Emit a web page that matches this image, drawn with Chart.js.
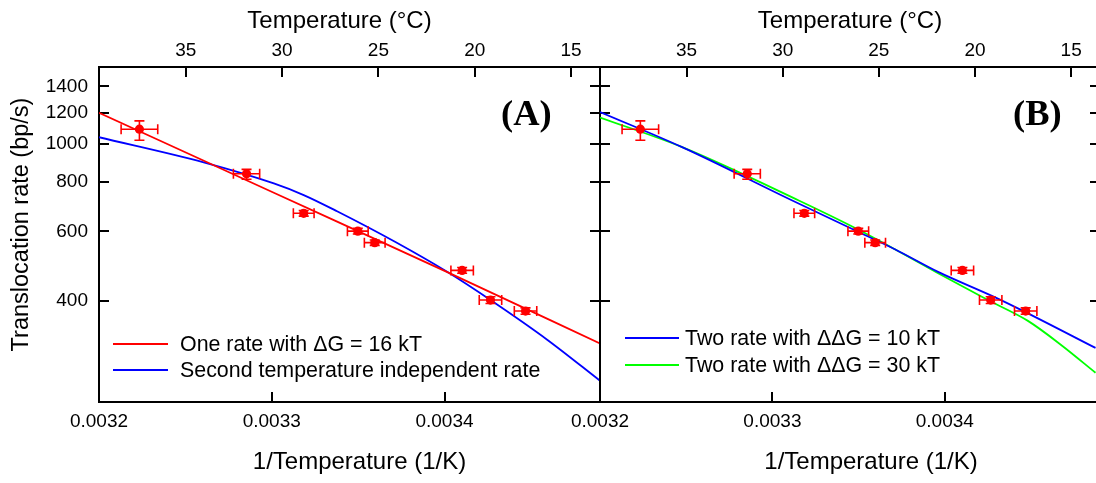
<!DOCTYPE html>
<html><head><meta charset="utf-8">
<script src="https://cdn.jsdelivr.net/npm/chart.js@4.4.1/dist/chart.umd.min.js"></script>
<style>
html,body{margin:0;padding:0;background:#fff;}
body{width:1096px;height:483px;overflow:hidden;position:relative;font-family:"Liberation Sans",Arial,sans-serif;}
canvas{position:absolute;top:0;}
#cA{left:0;}
#cB{left:560px;}
.panel-label{position:absolute;font-family:"Liberation Serif","Times New Roman",serif;font-weight:bold;font-size:36.5px;line-height:36px;color:#000;white-space:nowrap;}
.leg-text{position:absolute;height:26px;font-size:21.4px;line-height:26px;color:#000;white-space:nowrap;}
.leg-line{position:absolute;height:2px;}
</style></head>
<body>
<canvas id="cA" width="610" height="483"></canvas>
<canvas id="cB" width="560" height="483"></canvas>
<div class="panel-label" style="left:501px;top:95px">(A)</div>
<div class="panel-label" style="left:1013px;top:95px">(B)</div>
<script>
// ---------- data ----------
const invT     = [0.0032234, 0.0032854, 0.0033185, 0.0033498, 0.0033596, 0.0034102, 0.0034266, 0.0034469];
const rate     = [1090, 840, 667, 601, 562, 478, 402, 377];
const invTErr  = [0.0000106, 0.0000076, 0.0000060, 0.0000060, 0.0000060, 0.0000065, 0.0000065, 0.0000065];
const rateLow  = [1022, 814, 656, 591, 553, 470, 394, 370];
const rateHigh = [1144, 862, 678, 611, 571, 486, 410, 384];

// panel A fits
const oneRateX = [0.0032, 0.0033012, 0.0034035, 0.00349];
const oneRateY = [1200, 752, 469, 312];
const secondRateX = [0.0032, 0.0032606, 0.0033012, 0.0033185, 0.0033378, 0.0033716, 0.0034015, 0.0034266, 0.0034598, 0.00349];
const secondRateY = [1040, 898, 794, 742, 675, 564, 474, 402, 318, 251];

// panel B fits
const twoRate10X = [0.0032, 0.0032473, 0.0033112, 0.0033497, 0.0033710, 0.0033961, 0.0034289, 0.0034482, 0.0034874];
const twoRate10Y = [1205, 983, 720, 599, 541, 474, 409, 372, 304];
const twoRate30X = [0.0032, 0.0032473, 0.0033150, 0.0033497, 0.0033710, 0.0033961, 0.0034250, 0.0034482, 0.0034680, 0.0034874];
const twoRate30Y = [1167, 983, 720, 607, 541, 470, 402, 356, 308, 263];

// ticks
const invTTicks = [0.0032, 0.0033, 0.0034];
const tempTicks = [15, 20, 25, 30, 35];
const rateTicks = [400, 600, 800, 1000, 1200, 1400];

const labelOneRate = 'One rate with \u0394G = 16 kT';
const labelSecond  = 'Second temperature independent rate';
const labelTwo10   = 'Two rate with \u0394\u0394G = 10 kT';
const labelTwo30   = 'Two rate with \u0394\u0394G = 30 kT';

// ---------- helpers ----------
const pts = (xs, ys) => xs.map((x, i) => ({x: x, y: ys[i]}));
const FONT = '"Liberation Sans", Arial, sans-serif';
const RED = '#ff0000', BLUE = '#0000ff', GREEN = '#00ff00';

const errorBarPlugin = {
  id: 'errorBars',
  afterDatasetsDraw(chart) {
    const ctx = chart.ctx, xs = chart.scales.x, ys = chart.scales.y;
    chart.data.datasets.forEach((ds) => {
      if (!ds.errorBars) return;
      const e = ds.errorBars, c = 5;
      ctx.save();
      ctx.strokeStyle = ds.borderColor;
      ctx.lineWidth = 1.6;
      ds.data.forEach((p, i) => {
        const px = xs.getPixelForValue(p.x), py = ys.getPixelForValue(p.y);
        const xl = xs.getPixelForValue(p.x - e.xErr[i]), xr = xs.getPixelForValue(p.x + e.xErr[i]);
        const yt = ys.getPixelForValue(e.yHigh[i]), yb = ys.getPixelForValue(e.yLow[i]);
        ctx.beginPath();
        ctx.moveTo(xl, py); ctx.lineTo(xr, py);
        ctx.moveTo(xl, py - c); ctx.lineTo(xl, py + c);
        ctx.moveTo(xr, py - c); ctx.lineTo(xr, py + c);
        ctx.moveTo(px, yt); ctx.lineTo(px, yb);
        ctx.moveTo(px - c, yt); ctx.lineTo(px + c, yt);
        ctx.moveTo(px - c, yb); ctx.lineTo(px + c, yb);
        ctx.stroke();
      });
      ctx.restore();
    });
  }
};

// shifts an axis title along its own axis (the reference titles are not exactly centred)
function titleShiftPlugin(shifts) {
  return {
    id: 'titleShift',
    afterLayout(chart) {
      Object.keys(shifts).forEach(id => {
        const s = chart.scales[id];
        if (!s || s._shiftPatched) return;
        const orig = s.drawTitle;
        const d = shifts[id];
        s.drawTitle = function () {
          this.ctx.save();
          this.ctx.translate(d.x || 0, d.y || 0);
          orig.apply(this, arguments);
          this.ctx.restore();
        };
        s._shiftPatched = true;
      });
    }
  };
}

function pointsDataset() {
  return {
    type: 'scatter', label: 'data', data: pts(invT, rate),
    backgroundColor: RED, borderColor: RED, pointRadius: 4.6, pointHoverRadius: 4.6,
    pointBorderWidth: 0, showLine: false, inLegend: false,
    errorBars: {xErr: invTErr, yLow: rateLow, yHigh: rateHigh}
  };
}
function lineDataset(label, xs, ys, color) {
  return {
    type: 'line', label: label, data: pts(xs, ys), borderColor: color, backgroundColor: color,
    borderWidth: 1.8, pointRadius: 0, fill: false, cubicInterpolationMode: 'monotone', inLegend: true
  };
}

const gridOpts = {display: true, drawOnChartArea: false, drawTicks: true, tickLength: -10, lineWidth: 2, color: '#000'};
const borderOpts = {display: true, color: '#000', width: 2};
const noSidePad = s => { s.paddingLeft = 0; s.paddingRight = 0; };

function makeScales(leftWidth, rightWidth, withYLabels) {
  return {
    x: {
      type: 'linear', position: 'bottom', min: 0.0032, max: 0.00349, bounds: 'data',
      grid: gridOpts, border: borderOpts,
      afterBuildTicks: s => { s.ticks = invTTicks.map(v => ({value: v})); },
      afterFit: s => { s.height = 81; noSidePad(s); },
      ticks: {autoSkip: false, maxRotation: 0, minRotation: 0, padding: 18, color: '#000',
              font: {family: FONT, size: 19}, callback: v => Number(v).toFixed(4)},
      title: {display: true, text: '1/Temperature (1/K)', color: '#000',
              font: {family: FONT, size: 24}, padding: {top: 0, bottom: 6.6}}
    },
    x2: {
      type: 'linear', position: 'top', min: 13.5, max: 39.5, reverse: true, bounds: 'data',
      grid: gridOpts, border: borderOpts,
      afterBuildTicks: s => { s.ticks = tempTicks.map(v => ({value: v})); },
      afterFit: s => { s.height = 67; noSidePad(s); },
      ticks: {autoSkip: false, maxRotation: 0, minRotation: 0, padding: 15, color: '#000',
              font: {family: FONT, size: 19}, callback: v => String(v)},
      title: {display: true, text: 'Temperature (\u00B0C)', color: '#000',
              font: {family: FONT, size: 24}, padding: {top: 6.6, bottom: 0}}
    },
    y: {
      type: 'logarithmic', position: 'left', min: 221.7, max: 1567, bounds: 'data',
      grid: gridOpts, border: borderOpts,
      afterBuildTicks: s => { s.ticks = rateTicks.map(v => ({value: v})); },
      afterFit: s => { s.width = leftWidth; },
      ticks: {display: withYLabels, autoSkip: false, padding: 21, color: '#000',
              font: {family: FONT, size: 19}, callback: v => String(v)},
      title: {display: withYLabels, text: 'Translocation rate (bp/s)', color: '#000',
              font: {family: FONT, size: 23.5}, padding: {top: 7.8, bottom: 0}}
    },
    y2: {
      type: 'logarithmic', position: 'right', min: 221.7, max: 1567, bounds: 'data',
      grid: gridOpts, border: borderOpts,
      afterBuildTicks: s => { s.ticks = rateTicks.map(v => ({value: v})); },
      afterFit: s => { s.width = rightWidth; },
      ticks: {display: false}
    }
  };
}

function makeChart(id, datasets, leftWidth, rightWidth, withYLabels, shifts) {
  return new Chart(document.getElementById(id), {
    type: 'scatter',
    data: {datasets: datasets},
    options: {
      responsive: false, animation: false, devicePixelRatio: 1,
      layout: {padding: 0},
      plugins: {legend: {display: false}, tooltip: {enabled: false}},
      scales: makeScales(leftWidth, rightWidth, withYLabels)
    },
    plugins: [errorBarPlugin, titleShiftPlugin(shifts)]
  });
}

const chartA = makeChart('cA', [
  pointsDataset(),
  lineDataset(labelOneRate, oneRateX, oneRateY, RED),
  lineDataset(labelSecond, secondRateX, secondRateY, BLUE)
], 99, 10, true, {x2: {x: -10}, x: {x: 10}, y: {y: -10}});

const chartB = makeChart('cB', [
  pointsDataset(),
  lineDataset(labelTwo10, twoRate10X, twoRate10Y, BLUE),
  lineDataset(labelTwo30, twoRate30X, twoRate30Y, GREEN)
], 40, 20, false, {x: {x: 21}});

// ---------- HTML legends built from the datasets ----------
function buildLegend(chart, layout) {
  const items = chart.data.datasets.filter(d => d.inLegend);
  items.forEach((d, i) => {
    const y = layout.rowY[i];
    const ln = document.createElement('div');
    ln.className = 'leg-line';
    ln.style.left = layout.lineX + 'px';
    ln.style.width = layout.lineW + 'px';
    ln.style.top = (y - 1) + 'px';
    ln.style.background = d.borderColor;
    document.body.appendChild(ln);
    const tx = document.createElement('div');
    tx.className = 'leg-text';
    tx.style.left = layout.textX + 'px';
    tx.style.top = (y - 13) + 'px';
    tx.textContent = d.label;
    document.body.appendChild(tx);
  });
}
buildLegend(chartA, {lineX: 113, lineW: 55, textX: 180, rowY: [343.7, 369.7]});
buildLegend(chartB, {lineX: 625, lineW: 54, textX: 685, rowY: [337.7, 364.7]});
</script>
</body></html>
